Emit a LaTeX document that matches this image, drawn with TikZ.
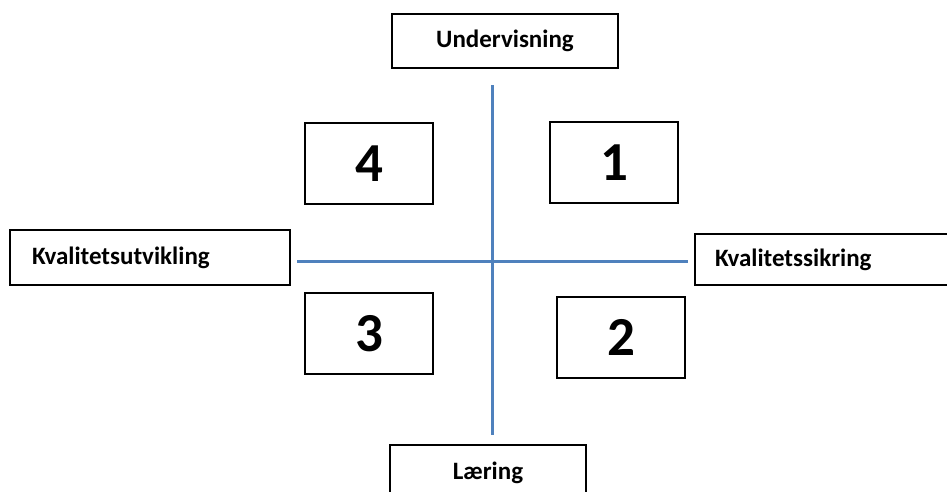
\documentclass[tikz,border=0pt]{standalone}
\usepackage{fontspec}
\setmainfont{Carlito}
\definecolor{axisblue}{RGB}{79,129,189}
\begin{document}
\begin{tikzpicture}[x=1pt,y=-1pt,
  frame/.style={draw=black, line width=2pt, fill=white, inner sep=0pt},
  axislabel/.style={frame, font=\bfseries\fontsize{25}{29}\selectfont},
  quad/.style={frame, minimum width=128pt, minimum height=81pt,
    font=\bfseries\fontsize{55}{55}\selectfont},
  axisline/.style={draw=axisblue, line width=2.2pt}]
\useasboundingbox (0,0) rectangle (947,491);

% axis labels
\node[axislabel, minimum width=226pt, minimum height=54pt] (und) at (505,41) {Undervisning};
\node[axislabel, text width=236pt, inner xsep=22pt, minimum height=55pt, align=left]
  (kut) at (150,257.5) {Kvalitetsutvikling};
\node[axislabel, text width=215pt, inner xsep=20pt, minimum height=51pt, align=left]
  (ksi) at (822.5,259.5) {Kvalitetssikring};
\node[axislabel, minimum width=196pt, minimum height=55pt] (lar) at (488,472.5) {Læring};

% quadrant boxes
\node[quad] (q4) at (369,163.5) {4};
\node[quad] (q1) at (614,162.5) {1};
\node[quad] (q3) at (369,333.5) {3};
\node[quad] (q2) at (621,337) {2};

% axes
\coordinate (vtop) at (492.5,85);
\coordinate (vbot) at (492.5,435);
\coordinate (hleft) at (297,261.5);
\coordinate (hright) at (688,261.5);
\draw[axisline] (vtop) -- (vbot);
\draw[axisline] (hleft) -- (hright);
\end{tikzpicture}
\end{document}
